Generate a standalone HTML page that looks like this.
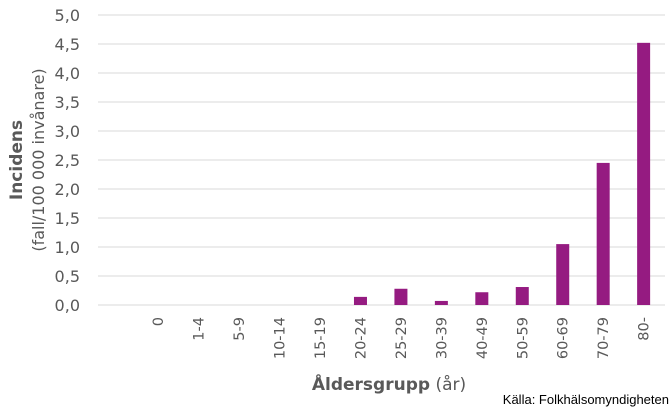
<!DOCTYPE html>
<html><head><meta charset="utf-8"><style>
body{margin:0;background:#fff;width:672px;height:413px;overflow:hidden;font-family:"DejaVu Sans","Liberation Sans",sans-serif}
</style></head><body>
<svg id="chart" width="672" height="413" xmlns="http://www.w3.org/2000/svg">
<g id="grid"></g><g id="bars"></g><g id="ylabels"></g><g id="xlabels"></g>
<text x="389" y="390" text-anchor="middle" font-size="17" fill="#595959"><tspan font-weight="bold">Åldersgrupp</tspan> (år)</text>
<g transform="translate(22,160) rotate(-90)">
<text x="0" y="0" text-anchor="middle" font-size="17" font-weight="bold" fill="#595959">Incidens</text>
</g>
<g transform="translate(44,160) rotate(-90)">
<text x="0" y="0" text-anchor="middle" font-size="16" fill="#595959">(fall/100 000 invånare)</text>
</g>
<text x="669" y="404" text-anchor="end" font-size="13" fill="#000" font-family="Liberation Sans, sans-serif">Källa: Folkhälsomyndigheten</text>
</svg>
<script>
const categories=["0","1-4","5-9","10-14","15-19","20-24","25-29","30-39","40-49","50-59","60-69","70-79","80-"];
const values=[0,0,0,0,0,0.14,0.28,0.07,0.22,0.31,1.05,2.45,4.52];
const yTicks=[0,0.5,1,1.5,2,2.5,3,3.5,4,4.5,5];
const yTickLabels=["0,0","0,5","1,0","1,5","2,0","2,5","3,0","3,5","4,0","4,5","5,0"];
const NS="http://www.w3.org/2000/svg";
const y0=305,pxPer=58,bandStart=138,band=40.45,bw=13;
const y=v=>y0-v*pxPer;
const x=i=>bandStart+band*(i+0.5);
function mk(t,a,p){const e=document.createElementNS(NS,t);for(const k in a)e.setAttribute(k,a[k]);document.getElementById(p).appendChild(e);return e;}
yTicks.forEach((t,i)=>{
 const l=mk('line',{x1:98,x2:665,y1:y(t),y2:y(t),stroke:'#d9d9d9','stroke-width':1},'grid');
 
 
 const tx=mk('text',{x:80,y:y(t)+6,'text-anchor':'end','font-size':16,fill:'#595959'},'ylabels');
 tx.textContent=yTickLabels[i];
 
 
});
values.forEach((v,i)=>{
 if(v>0){const r=mk('rect',{x:x(i)-bw/2,y:y(v),width:bw,height:v*pxPer,fill:'#951b81'},'bars');
 
 }
 const g=mk('text',{transform:`translate(${x(i)+5},317) rotate(-90)`,'text-anchor':'end','font-size':14.5,fill:'#595959'},'xlabels');
 g.textContent=categories[i];
 
 
});
</script>
</body></html>
